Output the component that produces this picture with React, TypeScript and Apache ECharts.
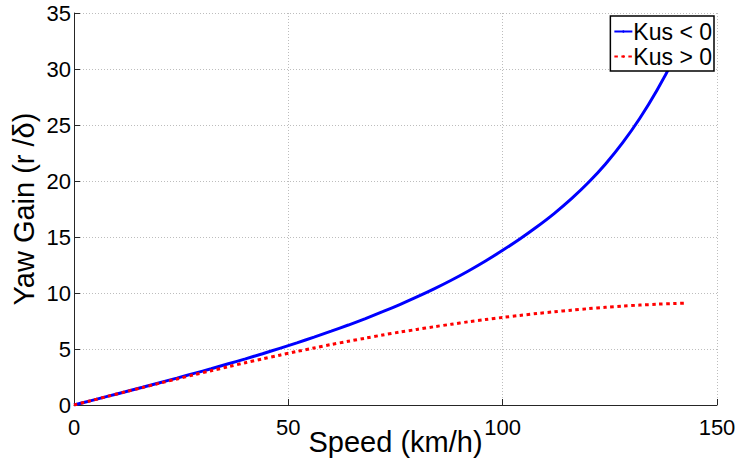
import React, { useEffect, useRef } from "react";
import * as echarts from "echarts";

const speeds = [0, 4, 8, 12, 16, 20, 24, 28, 32, 36, 40, 44, 48, 52, 56, 60, 64, 68, 72, 76, 80, 84, 88, 92, 96, 100, 104, 108, 112, 116, 120, 124, 128, 132, 136, 140, 143];
const kusNeg = [0, 0.39, 0.79, 1.18, 1.58, 1.99, 2.40, 2.82, 3.24, 3.68, 4.12, 4.58, 5.06, 5.55, 6.06, 6.59, 7.14, 7.72, 8.33, 8.97, 9.65, 10.37, 11.14, 11.97, 12.86, 13.81, 14.82, 15.91, 17.09, 18.4, 19.86, 21.52, 23.42, 25.6, 28.1, 30.95, 33.4];
const speedsPos = [0, 4, 8, 12, 16, 20, 24, 28, 32, 36, 40, 44, 48, 52, 56, 60, 64, 68, 72, 76, 80, 84, 88, 92, 96, 100, 104, 108, 112, 116, 120, 124, 128, 132, 136, 140, 143];
const kusPos = [0, 0.39, 0.79, 1.18, 1.56, 1.95, 2.32, 2.70, 3.06, 3.42, 3.78, 4.12, 4.45, 4.78, 5.09, 5.40, 5.69, 5.97, 6.25, 6.51, 6.75, 6.99, 7.21, 7.43, 7.63, 7.82, 8.0, 8.17, 8.32, 8.47, 8.6, 8.72, 8.83, 8.92, 9.0, 9.06, 9.1];
const seriesNames = ["Kus < 0", "Kus > 0"];
const xTitle = "Speed (km/h)";
const yTitle = "Yaw Gain (r /δ)";

const FONT = "'Liberation Sans', Arial, sans-serif";

export default function App() {
  const ref = useRef<HTMLDivElement>(null);
  useEffect(() => {
    if (!ref.current) return;
    const chart = echarts.init(ref.current, undefined, { renderer: "svg" });
    const grid = { show: true, lineStyle: { color: "#bdbdbd", width: 1, type: [1, 2] as any } };
    chart.setOption({
      animation: false,
      backgroundColor: "#ffffff",
      textStyle: { fontFamily: FONT },
      grid: { left: 74, top: 13, right: 20, bottom: 57, containLabel: false, outerBoundsMode: "none" },
      legend: {
        orient: "vertical",
        right: 23,
        top: 16,
        z: 20,
        backgroundColor: "#ffffff",
        borderColor: "#000000",
        borderWidth: 1.5,
        borderRadius: 0,
        padding: [4, 2, 3, 3],
        itemGap: 2,
        itemWidth: 18,
        itemHeight: 3,
        textStyle: { fontSize: 23, color: "#000", fontFamily: FONT, padding: [0, 0, 0, -4] },
        data: seriesNames,
      },
      xAxis: {
        type: "value",
        min: 0,
        max: 150,
        interval: 50,
        name: xTitle,
        nameLocation: "middle",
        nameGap: 22,
        nameMoveOverlap: false,
        nameTextStyle: { fontSize: 29, color: "#000", fontFamily: FONT },
        axisLine: { show: true, onZero: false, lineStyle: { color: "#262626", width: 1 } },
        axisTick: { show: true, inside: true, length: 6, lineStyle: { color: "#262626" } },
        axisLabel: { fontSize: 22, color: "#000", margin: 11, fontFamily: FONT },
        splitLine: grid,
      },
      yAxis: {
        type: "value",
        min: 0,
        max: 35,
        interval: 5,
        name: yTitle,
        nameLocation: "middle",
        nameGap: 36,
        nameMoveOverlap: false,
        nameTextStyle: { fontSize: 29, color: "#000", fontFamily: FONT },
        axisLine: { show: true, onZero: false, lineStyle: { color: "#262626", width: 1 } },
        axisTick: { show: true, inside: true, length: 6, lineStyle: { color: "#262626" } },
        axisLabel: { fontSize: 22, color: "#000", margin: 3, fontFamily: FONT },
        splitLine: grid,
      },
      series: [
        {
          name: seriesNames[0],
          type: "line",
          data: speeds.map((s, i) => [s, kusNeg[i]]),
          showSymbol: false,
          symbol: "none",
          smooth: 0.3,
          clip: true,
          lineStyle: { color: "#0000ff", width: 3 },
          itemStyle: { color: "#0000ff" },
          z: 2,
        },
        {
          name: seriesNames[1],
          type: "line",
          data: speedsPos.map((s, i) => [s, kusPos[i]]),
          showSymbol: false,
          symbol: "none",
          smooth: 0.3,
          clip: true,
          lineStyle: { color: "#ff0000", width: 3, type: [3.5, 3.5] as any },
          itemStyle: { color: "#ff0000" },
          z: 3,
        },
      ],
    });
    return () => chart.dispose();
  }, []);
  return <div ref={ref} style={{ width: 737, height: 462, position: "absolute", left: 0, top: 0 }} />;
}
